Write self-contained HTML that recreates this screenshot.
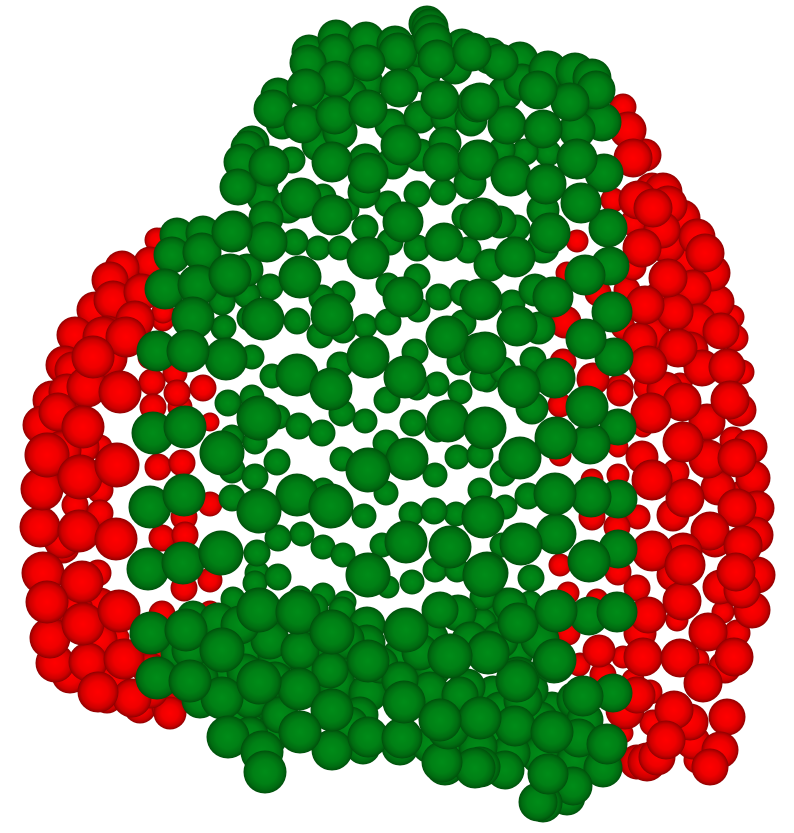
<!DOCTYPE html>
<html lang="en">
<head>
<meta charset="utf-8">
<title>3D sphere scatter</title>
<style>
html,body{margin:0;padding:0;background:#fff;}
svg{display:block;}
</style>
</head>
<body>
<svg id="chart" xmlns="http://www.w3.org/2000/svg" width="794" height="833" viewBox="0 0 794 833">
<defs>
<radialGradient id="red-shade" cx="50%" cy="50%" r="50%">
<stop offset="0" stop-color="#ff0000"/><stop offset="0.5" stop-color="#f00000"/><stop offset="0.8" stop-color="#cc0000"/><stop offset="0.95" stop-color="#a00000"/><stop offset="1" stop-color="#880000"/>
</radialGradient>
<radialGradient id="green-shade" cx="50%" cy="50%" r="50%">
<stop offset="0" stop-color="#008c18"/><stop offset="0.55" stop-color="#008015"/><stop offset="0.82" stop-color="#006c11"/><stop offset="0.95" stop-color="#00590d"/><stop offset="1" stop-color="#004c0b"/>
</radialGradient>
</defs>
<g id="red-series"></g>
<g id="green-series"></g>
</svg>
<script>
// Each entry: [scene x, scene y, sphere size]
var redPoints = [
[162,240,12],[157,240,12],[150,263,14],[130,272,12],[125,283,15],[142,292,18],[113,300,17],[100,317,15],[135,320,19],[88,330,14],[107,335,19],[103,337,20],[126,337,20],[77,347,12],[93,357,21],[73,370,18],[87,387,20],[120,392,21],[67,392,18],[58,412,19],[48,430,17],[83,427,21],[47,455,22],[80,477,22],[117,465,22],[163,320,11],[163,312,11],[150,357,12],[152,382,13],[175,373,12],[203,388,13],[177,393,13],[153,407,13],[180,407,12],[210,422,9],[158,467,13],[182,463,13],[83,447,14],[100,447,12],
[42,489,21],[40,527,20],[79,531,21],[116,539,21],[100,490,13],[75,505,13],[100,513,13],[63,547,14],[210,504,12],[184,517,13],[162,538,13],[185,535,13],[210,580,12],[184,588,13],[98,573,13],[43,573,21],[82,582,21],[47,602,21],[83,624,21],[119,611,21],[50,638,20],[55,663,19],[88,662,19],[124,659,20],[98,692,20],[107,697,14],[132,698,19],[140,707,14],[168,707,14],[170,713,14],[162,614,13],[210,613,12],[120,637,9],[193,703,11],[153,653,14],[80,603,12],
[623,107,13],[628,130,18],[645,155,14],[633,158,19],[652,190,15],[663,192,17],[668,205,17],[682,218,16],[638,200,19],[653,208,19],[678,223,15],[662,230,18],[642,248,19],[667,245,16],[697,237,16],[705,253,17],[687,260,15],[712,273,16],[668,278,19],[693,288,16],[717,302,15],[645,305,19],[675,312,18],[698,322,16],[721,331,18],[732,317,12],[735,338,13],[653,333,14],[678,348,19],[648,365,19],[702,368,18],[727,367,18],[742,372,12],[577,241,11],[567,273,11],[627,290,13],[598,293,13],[613,200,12],[633,267,13],[565,322,14],[623,327,12],[563,362,13],[593,379,14],[620,387,13],[647,387,13],[633,223,13],[680,385,12],
[651,413,20],[682,402,19],[730,400,19],[707,422,18],[740,410,14],[683,442,20],[708,459,19],[737,458,19],[750,447,15],[733,440,13],[753,478,15],[642,457,14],[652,480,20],[685,498,19],[676,472,13],[718,488,15],[737,508,19],[757,508,15],[742,497,14],[638,517,12],[673,515,14],[710,531,19],[755,535,18],[743,545,19],[715,540,15],[652,551,20],[683,552,19],[685,565,20],[673,575,14],[736,572,19],[757,575,16],[720,587,15],[742,590,18],[752,610,16],[682,601,19],[637,588,13],[648,615,18],[677,620,11],[708,632,19],[723,612,11],[737,633,13],[734,657,19],[640,633,14],[568,633,12],[599,651,14],[643,657,19],[680,658,19],[623,657,11],[579,665,11],[603,675,13],[703,683,19],[725,667,14],[633,680,11],[698,660,11],[560,405,12],[620,393,13],[560,565,11],[618,572,13],[617,527,13],[592,517,13],[592,480,11],[618,475,11],[568,593,11],[597,600,11],[560,455,11],[643,427,10],[618,447,10],
[674,710,19],[727,717,18],[690,722,18],[625,710,17],[637,695,18],[650,692,12],[666,740,19],[720,750,18],[693,742,15],[657,757,18],[647,762,17],[637,762,15],[710,767,18],[697,760,13],[653,723,13],[623,733,10],[580,663,10],[602,675,12],
[110,280,16],[122,268,15],[95,310,16],[75,335,16],[65,365,17],[52,400,17],[42,425,17],[108,358,17],[62,450,17],[100,640,15],[70,675,16],[112,680,16],[150,690,16],[150,670,15],[75,610,16],[100,605,15],[62,540,16],[640,340,15],[660,300,16],[690,350,16],[665,390,16]
];
var greenPoints = [
[230,275,21],[300,277,21],[368,258,21],[403,297,20],[482,300,20],[263,319,21],[332,315,21],[447,337,21],[485,353,21],[226,359,21],[368,357,21],[297,375,21],[331,389,21],[405,377,21],[259,418,22],[448,421,21],[485,428,21],[222,453,22],[368,470,22],[407,459,21],[297,495,21],[331,506,22],[259,511,22],[483,517,21],[221,553,22],[406,542,21],[450,547,21],
[270,287,13],[322,298,13],[343,293,12],[388,285,12],[417,277,13],[439,297,13],[463,293,13],[247,295,13],[222,302,13],[250,318,13],[223,328,12],[297,321,13],[320,335,13],[343,330,13],[365,326,12],[388,322,13],[418,310,12],[463,323,13],[252,357,12],[272,376,12],[340,365,13],[415,352,13],[460,362,13],[483,378,13],[437,384,12],[460,392,12],[387,400,13],[417,388,12],[252,397,12],[228,403,13],[342,413,13],[365,421,12],[278,417,12],[299,426,13],[322,433,13],[413,423,13],[437,430,12],[232,437,12],[255,442,12],[386,443,13],[342,459,12],[457,457,12],[480,455,13],[277,462,13],[232,470,13],[435,475,12],[255,477,13],[386,493,12],[480,490,12],[323,490,12],[232,498,13],[364,516,12],[411,514,12],[434,511,13],[456,514,12],[278,538,13],[302,534,12],[323,547,12],[343,555,12],[257,553,13],[382,545,12],[503,473,12],
[336,38,16],[366,40,16],[395,44,16],[309,52,15],[336,52,16],[398,52,17],[308,63,18],[367,63,18],[427,24,16],[430,27,16],[431,33,16],[433,42,17],[437,59,19],[472,52,19],[455,67,15],[336,79,18],[306,88,19],[399,88,19],[366,83,15],[423,75,15],[440,100,19],[477,103,19],[278,95,15],[273,109,19],[303,124,19],[335,115,19],[368,109,19],[340,132,15],[391,125,14],[420,117,14],[447,117,14],[471,120,14],[282,123,14],[401,145,20],[318,145,14],[332,162,20],[368,173,20],[365,160,14],[364,192,14],[393,163,14],[420,155,14],[445,143,14],[442,162,19],[478,160,20],[470,183,14],[252,143,15],[248,148,15],[242,162,16],[269,166,20],[292,160,13],[238,187,18],[263,197,14],[265,183,13],[301,198,20],[323,197,13],[288,207,14],[332,215,20],[348,210,11],[388,204,13],[417,194,13],[443,192,13],[403,222,20],[465,217,13],[482,218,20],[365,228,13],[266,218,15],[233,231,20],[267,242,20],[295,242,13],[318,248,12],[340,248,12],[390,242,13],[417,248,13],[444,242,19],[468,250,13],
[507,125,19],[543,129,19],[577,130,18],[602,122,17],[570,102,19],[595,93,15],[538,90,19],[505,93,15],[480,102,19],[577,159,20],[604,173,19],[548,153,13],[525,152,13],[502,150,13],[480,158,18],[511,176,20],[546,184,20],[581,203,20],[608,228,19],[543,210,14],[517,228,13],[550,233,20],[480,220,20],[500,222,14],[515,257,20],[490,265,14],[543,247,14],[585,275,20],[610,266,19],[553,297,20],[535,290,14],[480,299,20],[512,303,13],[612,312,20],[517,326,20],[539,328,14],[586,339,20],[614,357,19],[480,353,20],[533,360,13],[555,378,20],[519,387,21],[503,370,13],[487,380,12],
[532,408,14],[587,407,21],[618,427,18],[556,438,21],[590,444,20],[520,458,21],[503,473,13],[555,494,21],[591,497,20],[618,499,19],[528,496,13],[505,507,12],[556,534,20],[521,544,21],[589,561,21],[618,549,19],[502,545,12],[487,573,21],[531,578,13],[507,600,12],[530,603,12],[556,611,21],[589,616,19],[617,612,20],[518,623,20],[487,617,13],[488,652,21],[517,653,14],[554,662,21],[518,678,21],
[555,660,21],[517,681,21],[583,696,20],[613,693,19],[552,708,14],[523,700,19],[493,693,15],[515,726,20],[552,732,21],[579,738,19],[607,744,20],[480,718,19],[511,753,19],[603,768,19],[548,774,20],[505,770,19],[573,786,19],[480,767,20],[543,803,19],[538,802,19],[567,797,18],
[368,575,22],[257,573,12],[278,577,13],[388,587,11],[412,582,12],[485,575,22],[435,570,12],[457,570,12],[233,599,12],[323,595,12],[345,602,11],[300,598,12],[259,610,22],[298,612,22],[332,632,22],[315,607,13],[342,610,13],[367,625,16],[406,630,22],[458,613,16],[483,622,13],[483,597,13],[218,622,17],[222,650,22],[247,650,16],[277,655,17],[313,643,15],[368,661,21],[367,643,16],[400,657,16],[450,656,22],[488,653,21],[430,638,16],[433,667,17],[337,663,13],[259,682,22],[299,689,21],[307,677,16],[336,683,17],[368,693,17],[332,710,21],[404,702,21],[222,698,21],[228,677,15],[272,703,17],[200,678,18],[467,687,18],[448,728,21],[480,718,21],[440,720,21],[300,732,21],[268,737,17],[245,723,12],[228,737,21],[262,752,21],[265,772,21],[332,750,20],[368,737,20],[402,738,20],[363,747,15],[400,747,18],[445,765,20],[475,768,20],[478,747,19],[442,762,20],
[150,507,21],[184,495,21],[148,569,21],[183,563,21],[255,583,12],[151,633,21],[186,630,21],[193,617,14],[157,678,21],[190,681,21],[177,653,14],[200,660,14],[233,717,14],[267,728,15],
[177,235,15],[203,233,15],[232,232,20],[172,255,18],[202,252,19],[230,277,20],[165,289,20],[198,285,20],[193,318,21],[224,327,12],[157,351,20],[188,351,21],[153,433,21],[185,427,21],[247,270,14],
[500,62,18],[520,60,16],[548,70,17],[575,72,17],[592,78,17],[462,46,15],[490,56,16],[596,90,17],[522,82,16],[560,85,16],[420,50,15],[320,100,15],[350,95,15],
[270,640,17],[240,625,17],[300,650,17],[345,640,17],[380,665,18],[420,652,18],[430,690,18],[460,695,18],[500,640,18],[400,680,18],[470,640,18],[540,640,17],[530,690,18],[500,710,18],[360,715,18],[330,670,18],[250,700,18],[190,650,18],[200,700,18],[245,672,18],[275,680,18],[540,720,18],[575,700,18],[575,760,18],[430,745,18],[540,755,17],[500,740,18],[460,745,18],[585,720,18],[250,735,18],[280,715,18],[350,725,18],[440,610,16],[510,605,15]
];

var sceneWidth = 794;
var sceneHeight = 833;
function xAxis(v) { return v / sceneWidth * 794; }
function yAxis(v) { return v / sceneHeight * 833; }
function sizeAxis(v) { return v >= 14 && v <= 17 ? v + 2.5 : v + 0.5; }

var SVG_NS = 'http://www.w3.org/2000/svg';
function drawSeries(points, groupId, gradient, markName) {
  var group = document.getElementById(groupId);
  var ordered = points.slice().sort(function (a, b) { return a[2] - b[2]; });
  ordered.forEach(function (p) {
    var el = document.createElementNS(SVG_NS, 'circle');
    el.setAttribute('cx', xAxis(p[0]));
    el.setAttribute('cy', yAxis(p[1]));
    el.setAttribute('r', sizeAxis(p[2]));
    el.setAttribute('fill', 'url(#' + gradient + ')');
    
    
    group.appendChild(el);
  });
}
drawSeries(redPoints, 'red-series', 'red-shade', 'red-sphere');
drawSeries(greenPoints, 'green-series', 'green-shade', 'green-sphere');
</script>
</body>
</html>
